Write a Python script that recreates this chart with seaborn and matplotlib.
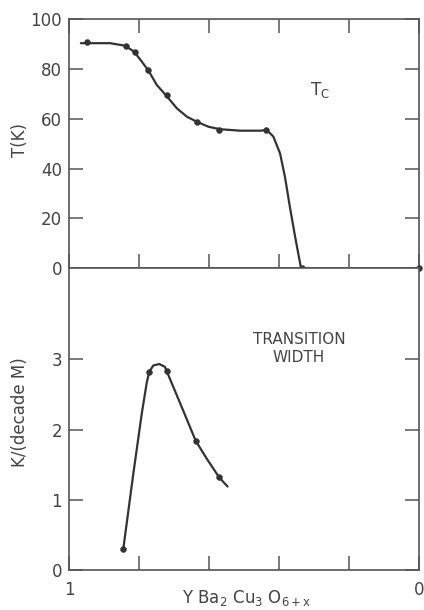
import matplotlib
matplotlib.use("Agg")
import matplotlib.pyplot as plt
import seaborn as sns
import pandas as pd

sns.set_theme(style="white")
plt.rcParams['font.family'] = ['DejaVu Sans']
plt.rcParams['mathtext.default'] = 'regular'

# ---- data ----
# Tc measured points
tc_x = [0.948, 0.838, 0.812, 0.773, 0.721, 0.633, 0.571, 0.438, 0.335, 0.0]
tc_T = [90.9, 89.0, 86.9, 79.4, 69.5, 58.8, 55.6, 55.5, 0.0, 0.0]
# Tc hand-drawn guide curve
tcc_x = [0.966, 0.883, 0.840, 0.814, 0.792, 0.773, 0.749, 0.721, 0.692, 0.663,
         0.635, 0.602, 0.569, 0.511, 0.454, 0.435, 0.416, 0.397, 0.383, 0.369,
         0.354, 0.337]
tcc_T = [90.3, 90.3, 89.3, 86.9, 82.9, 79.3, 73.5, 69.1, 64.2, 60.8,
         58.8, 56.8, 55.8, 55.2, 55.2, 55.5, 52.8, 46.1, 36.7, 24.7,
         12.7, 0.0]
# Transition width measured points
tw_x = [0.845, 0.771, 0.721, 0.638, 0.571]
tw_w = [0.30, 2.82, 2.83, 1.84, 1.32]
# Transition width guide curve
twc_x = [0.845, 0.816, 0.792, 0.778, 0.771, 0.759, 0.742, 0.726, 0.721, 0.683,
         0.638, 0.607, 0.571, 0.547]
twc_w = [0.30, 1.38, 2.23, 2.66, 2.82, 2.91, 2.93, 2.89, 2.83, 2.38,
         1.84, 1.59, 1.32, 1.19]

x_ticks = [1.0, 0.8, 0.6, 0.4, 0.2, 0.0]
x_ticklabels = ['1', '', '', '', '', '0']
t_ticks = [0, 20, 40, 60, 80, 100]
w_ticks = [0, 1, 2, 3]

LINE = '#333333'
TXT = '#444444'
SPINE = '#555555'

fig = plt.figure(figsize=(4.24, 6.10), dpi=100)
ax1 = fig.add_axes([69/424, 1 - 268.3/610, (419 - 69)/424, (268.3 - 19)/610])
ax2 = fig.add_axes([69/424, 1 - 570.3/610, (419 - 69)/424, (570.3 - 268.3)/610])

df_tc = pd.DataFrame({'x': tc_x, 'T': tc_T})
df_tcc = pd.DataFrame({'x': tcc_x, 'T': tcc_T})
df_tw = pd.DataFrame({'x': tw_x, 'w': tw_w})
df_twc = pd.DataFrame({'x': twc_x, 'w': twc_w})

sns.lineplot(data=df_tcc, x='x', y='T', sort=False, color=LINE, lw=1.6, ax=ax1)
sns.scatterplot(data=df_tc, x='x', y='T', color=LINE, s=18, edgecolor=LINE,
                ax=ax1, zorder=5, clip_on=False)
sns.lineplot(data=df_twc, x='x', y='w', sort=False, color=LINE, lw=1.6, ax=ax2)
sns.scatterplot(data=df_tw, x='x', y='w', color=LINE, s=18, edgecolor=LINE,
                ax=ax2, zorder=5, clip_on=False)

for ax in (ax1, ax2):
    ax.set_xlim(1, 0)
    ax.set_xticks(x_ticks)
    for s in ax.spines.values():
        s.set_color(SPINE)
        s.set_linewidth(1.2)
    ax.set_xlabel('')
    ax.set_ylabel('')

ax1.set_ylim(0, 100)
ax1.set_yticks(t_ticks)
ax1.set_xticklabels([])
ax1.tick_params(axis='both', direction='in', length=10, width=1.1, color=SPINE,
                top=True, bottom=True, left=True, right=True,
                labelsize=12, labelcolor=TXT, pad=5)
ax1.tick_params(axis='x', labelbottom=False)

ax2.set_ylim(0, 4.29)
ax2.set_yticks(w_ticks)
ax2.set_xticklabels(x_ticklabels)
ax2.tick_params(axis='both', direction='in', length=10, width=1.1, color=SPINE,
                top=False, bottom=True, left=True, right=True,
                labelsize=12, labelcolor=TXT, pad=5)
ax2.tick_params(axis='x', pad=8)

fig.text(20/424, 1 - 140/610, 'T(K)', rotation=90, ha='center', va='center',
         fontsize=12, color=TXT)
fig.text(20/424, 1 - 412/610, 'K/(decade M)', rotation=90, ha='center', va='center',
         fontsize=12, color=TXT)
fig.text(247/424, 1 - 598/610, 'Y Ba$_2$ Cu$_3$ O$_{6+x}$', ha='center', va='center',
         fontsize=12, color=TXT)

ax1.text(0.717, 0.715, 'T$_C$', transform=ax1.transAxes, ha='center', va='center',
         fontsize=12, color=TXT)
ax2.text(0.657, 0.733, 'TRANSITION\nWIDTH', transform=ax2.transAxes, ha='center',
         va='center', fontsize=11, color=TXT, linespacing=1.25)

fig.savefig('out.png', dpi=100, facecolor='white')
